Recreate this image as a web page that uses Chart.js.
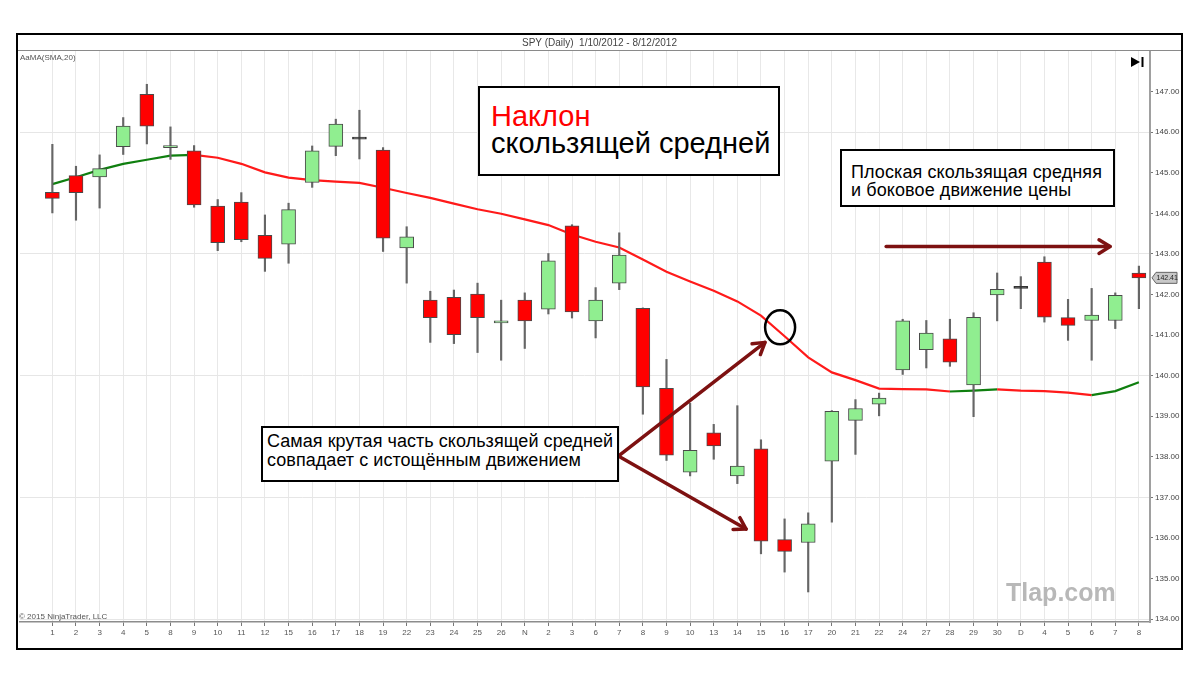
<!DOCTYPE html>
<html lang="ru">
<head>
<meta charset="utf-8">
<title>SPY (Daily) 1/10/2012 - 8/12/2012</title>
<script src="https://cdn.jsdelivr.net/npm/chart.js@4.4.1/dist/chart.umd.min.js"></script>
<style>
  html, body { margin: 0; padding: 0; background: #fff; }
  #wrap { position: relative; width: 1200px; height: 673px; overflow: hidden;
          font-family: "Liberation Sans", Arial, sans-serif; }
  #chart { position: absolute; left: 0; top: 0; }
  .abs { position: absolute; white-space: nowrap; }
  .frame { left: 16px; top: 33px; width: 1167px; height: 617px; border: 2px solid #000; box-sizing: border-box; }
  .header { left: 18px; top: 35px; width: 1163px; height: 16px; box-sizing: border-box; border-bottom: 1px solid #8a8a8a;
            text-align: center; font-size: 10px; line-height: 15px; color: #444; }
  .small { font-size: 8px; line-height: 10px; color: #555; }
  .box { background: #fff; border: 2px solid #000; box-sizing: border-box; color: #000; }
  .box1 { left: 478px; top: 86px; width: 302px; height: 90px; padding: 15px 0 0 11px; font-size: 29px; line-height: 27px; }
  .box1 .red { color: #ff0000; }
  .box2 { left: 840px; top: 149px; width: 275px; height: 58px; padding: 13px 0 0 9px; font-size: 18px; line-height: 17.5px; letter-spacing: 0.1px; }
  .box3 { left: 261px; top: 426px; width: 358px; height: 56px; padding: 4px 0 0 4px; font-size: 18px; line-height: 19px; letter-spacing: 0.05px; }
  .mark { left: 1006px; top: 579px; font-size: 25px; line-height: 26px; font-weight: bold; color: #b8b8b8; }
</style>
</head>
<body>
<div id="wrap">
  <canvas id="chart" width="1200" height="673"></canvas>
  <div class="abs frame"></div>
  <div class="abs header">SPY (Daily)&nbsp; 1/10/2012 - 8/12/2012</div>
  <div class="abs small" style="left:20px;top:53px;">AaMA(SMA,20)</div>
  <div class="abs small" style="left:19px;top:612px;">© 2015 NinjaTrader, LLC</div>
  <svg class="abs" style="left:1131px;top:57px;" width="14" height="11">
    <polygon points="0,0 9,5 0,10" fill="#000"/><rect x="10.5" y="0" width="2" height="10" fill="#000"/>
  </svg>
  <div class="abs box box1"><span class="red">Наклон</span><br>скользящей средней</div>
  <div class="abs box box2">Плоская скользящая средняя<br>и боковое движение цены</div>
  <div class="abs box box3">Самая крутая часть скользящей средней<br>совпадает с истощённым движением</div>
  <div class="abs mark">Tlap.com</div>
</div>
<script>
// trading days, 1/10/2012 .. 8/12/2012
const X_LABELS = ['1','2','3','4','5','8','9','10','11','12','15','16','17','18','19','22','23','24','25','26','N',
                  '2','3','6','7','8','9','10','13','14','15','16','17','20','21','22','24','27','28','29','30','D',
                  '4','5','6','7','8'];

const OPEN  = [144.52,144.93,144.90,145.64,146.93,145.62,145.54,144.18,144.28,143.46,143.24,144.76,145.65,145.83,145.56,
               143.15,141.86,141.93,142.01,141.30,141.86,141.64,143.69,141.35,142.28,141.66,139.69,137.62,138.59,137.53,
               138.20,135.96,135.89,137.89,138.90,139.30,140.14,140.64,140.91,139.77,141.99,142.15,142.80,141.43,141.36,
               141.36,142.53];
const HIGH  = [145.70,145.16,145.44,146.36,147.18,146.13,145.67,144.34,144.51,143.96,144.25,145.66,146.32,146.54,145.62,
               143.67,142.08,142.11,142.28,141.86,142.04,143.01,143.72,142.17,143.52,141.67,140.40,139.32,138.80,139.26,
               138.42,136.47,136.62,139.14,139.41,139.57,141.39,141.36,141.39,141.55,142.53,142.44,142.93,141.88,142.15,
               142.04,142.70];
const LOW   = [144.01,143.83,144.13,145.45,145.71,145.33,144.15,143.08,143.30,142.57,142.77,144.64,145.42,145.34,143.06,
               142.28,140.82,140.79,140.57,140.38,140.67,141.52,141.42,140.93,142.12,139.05,137.91,137.53,137.94,137.34,
               135.61,135.16,134.67,136.39,138.06,139.01,140.03,140.19,140.23,138.99,141.35,141.65,141.32,140.87,140.38,
               141.16,141.65];
const CLOSE = [144.37,144.51,145.10,146.15,146.15,145.66,144.21,143.28,143.35,142.89,144.09,145.54,146.20,145.83,143.39,
               143.42,141.43,141.01,141.43,141.34,141.35,142.83,141.57,141.86,142.97,139.72,138.04,138.16,138.27,137.77,
               135.92,135.67,136.35,139.12,139.19,139.45,141.35,141.05,140.33,141.44,142.13,142.15,141.44,141.24,141.49,
               141.98,142.41];
// AaMA(SMA,20)
const MA    = [144.72,144.89,145.07,145.22,145.32,145.42,145.44,145.37,145.22,145.01,144.88,144.82,144.78,144.75,144.63,
               144.50,144.38,144.24,144.10,143.99,143.85,143.71,143.48,143.30,143.16,142.86,142.56,142.32,142.09,141.83,
               141.48,140.97,140.45,140.08,139.89,139.68,139.67,139.66,139.61,139.63,139.66,139.63,139.62,139.58,139.52,
               139.62,139.84];

const Y_TICKS = [134,135,136,137,138,139,140,141,142,143,144,145,146,147];

// annotation anchors in chart units (bar index, price)
const ARROW_FLAT  = { from: [35.30, 143.18], to: [44.78, 143.18] };
const ARROW_ROOT  = [23.96, 138.02];
const ARROW_TIPS  = [[30.17, 140.82], [29.37, 136.22]];
const RING        = { at: [30.81, 141.19], rx: 15, ry: 17 };

const UP = '#90ee90', DOWN = '#ff0000', FLAT = '#333333';

function candleColor(i) {
  if (CLOSE[i] > OPEN[i]) return UP;
  if (CLOSE[i] < OPEN[i]) return DOWN;
  return FLAT;
}

function arrow(ctx, x0, y0, x1, y1) {
  const a = Math.atan2(y1 - y0, x1 - x0), h = 13;
  ctx.beginPath();
  ctx.moveTo(x0, y0);
  ctx.lineTo(x1, y1);
  ctx.stroke();
  ctx.beginPath();
  ctx.moveTo(x1 - h * Math.cos(a - 0.55), y1 - h * Math.sin(a - 0.55));
  ctx.lineTo(x1, y1);
  ctx.lineTo(x1 - h * Math.cos(a + 0.55), y1 - h * Math.sin(a + 0.55));
  ctx.stroke();
}

const annotate = {
  id: 'annotate',
  afterDraw(chart) {
    const {ctx, scales: {x, y}, chartArea} = chart;
    const px = (p) => [x.getPixelForValue(p[0]), y.getPixelForValue(p[1])];
    ctx.save();

    // last price marker on the price axis
    const last = CLOSE[CLOSE.length - 1];
    const ly = y.getPixelForValue(last);
    const lx = chartArea.right + 2;
    ctx.beginPath();
    ctx.moveTo(lx, ly);
    ctx.lineTo(lx + 4, ly - 5.5);
    ctx.lineTo(lx + 25, ly - 5.5);
    ctx.lineTo(lx + 25, ly + 5.5);
    ctx.lineTo(lx + 4, ly + 5.5);
    ctx.closePath();
    ctx.fillStyle = '#c8c8c8';
    ctx.fill();
    ctx.strokeStyle = '#666';
    ctx.lineWidth = 1;
    ctx.stroke();
    ctx.fillStyle = '#222';
    ctx.font = '7px "Liberation Sans", Arial';
    ctx.textBaseline = 'middle';
    ctx.fillText(last.toFixed(2), lx + 4.5, ly + 0.5);

    // arrows
    ctx.strokeStyle = '#7d1111';
    ctx.lineWidth = 3.5;
    ctx.lineCap = 'round';
    ctx.lineJoin = 'round';
    const f0 = px(ARROW_FLAT.from), f1 = px(ARROW_FLAT.to);
    arrow(ctx, f0[0], f0[1], f1[0], f1[1]);
    const r = px(ARROW_ROOT);
    ARROW_TIPS.forEach(t => {
      const p = px(t);
      arrow(ctx, r[0], r[1], p[0], p[1]);
    });

    // ring on the steepest part
    const c = px(RING.at);
    ctx.beginPath();
    ctx.ellipse(c[0], c[1], RING.rx, RING.ry, 0, 0, Math.PI * 2);
    ctx.strokeStyle = '#000';
    ctx.lineWidth = 2.5;
    ctx.stroke();
    ctx.restore();
  }
};

const ctx = document.getElementById('chart').getContext('2d');

new Chart(ctx, {
  type: 'bar',
  data: {
    datasets: [
      {
        type: 'bar',
        label: 'body',
        data: X_LABELS.map((_, i) => ({x: i, y: [OPEN[i], CLOSE[i]]})),
        backgroundColor: X_LABELS.map((_, i) => candleColor(i)),
        borderColor: X_LABELS.map((_, i) => candleColor(i) === FLAT ? FLAT : '#4a4a4a'),
        borderWidth: 1,
        borderSkipped: false,
        barThickness: 14,
        minBarLength: 2,
        grouped: false,
        order: 0
      },
      {
        type: 'bar',
        label: 'wick',
        data: X_LABELS.map((_, i) => ({x: i, y: [LOW[i], HIGH[i]]})),
        backgroundColor: '#666666',
        borderWidth: 0,
        barThickness: 1.5,
        grouped: false,
        order: 1
      },
      {
        type: 'line',
        label: 'AaMA(SMA,20)',
        data: MA.map((v, i) => ({x: i, y: v})),
        borderWidth: 2.2,
        pointRadius: 0,
        tension: 0,
        borderColor: '#ff1a1a',
        segment: {
          borderColor: c => c.p1.parsed.y > c.p0.parsed.y ? '#0f7f0f' : '#ff1a1a'
        },
        order: 2
      }
    ]
  },
  options: {
    responsive: false,
    animation: false,
    devicePixelRatio: 1,
    layout: { padding: { left: 20, right: 19, top: 51, bottom: 24 } },
    plugins: {
      legend: { display: false },
      tooltip: { enabled: false }
    },
    scales: {
      x: {
        type: 'linear',
        min: -1.37,
        max: 46.47,
        offset: false,
        afterBuildTicks: s => { s.ticks = X_LABELS.map((_, i) => ({value: i})); },
        afterFit: s => { s.height = 27; },
        ticks: {
          autoSkip: false,
          maxRotation: 0,
          padding: 2,
          color: '#555',
          font: { family: '"Liberation Sans", Arial', size: 8 },
          callback: v => X_LABELS[v]
        },
        grid: { color: '#e8e8e8', offset: false, tickLength: 4, tickColor: '#777' },
        border: { color: '#8c8c8c', width: 1.5 }
      },
      y: {
        position: 'right',
        min: 133.93,
        max: 148.0,
        beginAtZero: false,
        afterBuildTicks: s => { s.ticks = Y_TICKS.map(v => ({value: v})); },
        afterFit: s => { s.width = 31; },
        ticks: {
          padding: 2,
          color: '#444',
          font: { family: '"Liberation Sans", Arial', size: 8 },
          callback: v => v.toFixed(2)
        },
        grid: {
          color: c => (c.tick && (c.tick.value - 134) % 3 === 0) ? '#e6e6e6' : 'rgba(0,0,0,0)',
          tickLength: 3,
          tickColor: '#777'
        },
        border: { color: '#a0a0a0', width: 2 }
      }
    }
  },
  plugins: [annotate]
});
</script>
</body>
</html>
